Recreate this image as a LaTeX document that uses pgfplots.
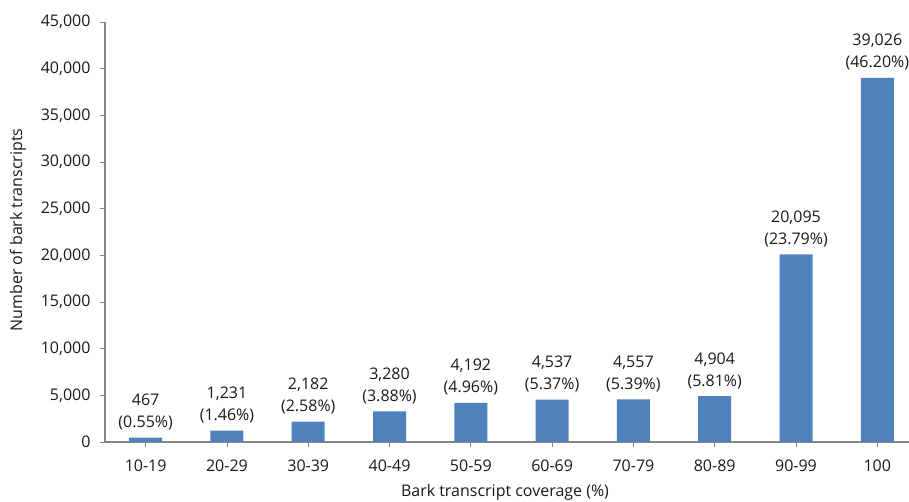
\documentclass[border=0pt]{standalone}
\usepackage{pgfplots}
\pgfplotsset{compat=1.18}
\usepackage{fontspec}
\setmainfont{Open Sans}
\definecolor{barblue}{HTML}{4F81BD}
\definecolor{axgray}{HTML}{868686}
\definecolor{txt}{HTML}{1A1A1A}
\begin{document}
\begin{tikzpicture}[x=1pt,y=1pt]
\begin{axis}[
  at={(0,0)}, anchor=south west,
  scale only axis, width=804pt, height=420pt,
  xmin=-0.5, xmax=9.39, ymin=0, ymax=45000,
  axis x line*=bottom, axis y line*=left,
  axis line style={axgray, line width=1.3pt, -},
  tick style={axgray, line width=0.8pt},
  major tick length=5pt,
  tick align=outside,
  xtick={0,...,9},
  xticklabels={10-19,20-29,30-39,40-49,50-59,60-69,70-79,80-89,90-99,100},
  ytick={0,5000,...,45000},
  scaled y ticks=false,
  /pgf/number format/1000 sep={,},
  /pgf/number format/assume math mode=true,
  font=\fontsize{16}{22}\selectfont,
  every tick label/.append style={text=txt, font=\fontsize{16}{22}\selectfont},
  xticklabel style={yshift=-9pt},
  yticklabel style={xshift=-6pt},
  xlabel={Bark transcript coverage (\%)},
  ylabel={Number of bark transcripts},
  every axis x label/.style={at={(axis description cs:0.4975,0)}, yshift=-50pt, anchor=center, text=txt, font=\fontsize{16}{22}\selectfont},
  every axis y label/.style={at={(axis description cs:0,0.505)}, xshift=-87pt, anchor=center, rotate=90, text=txt, font=\fontsize{16}{22}\selectfont},
  ybar, bar width=33pt,
  nodes near coords,
  point meta=explicit symbolic,
  every node near coord/.append style={align=center, anchor=south, yshift=4pt, text=txt, font=\fontsize{16}{22}\selectfont},
]
\addplot[fill=barblue, draw=none] coordinates {
  (0,467) [{467\\(0.55\%)}]
  (1,1231) [{1,231\\(1.46\%)}]
  (2,2182) [{2,182\\(2.58\%)}]
  (3,3280) [{3,280\\(3.88\%)}]
  (4,4192) [{4,192\\(4.96\%)}]
  (5,4537) [{4,537\\(5.37\%)}]
  (6,4557) [{4,557\\(5.39\%)}]
  (7,4904) [{4,904\\(5.81\%)}]
  (8,20095) [{20,095\\(23.79\%)}]
  (9,39026) [{39,026\\(46.20\%)}]
};
\end{axis}
\pgfresetboundingbox
\path (-105,-60) rectangle (804,442);
\end{tikzpicture}
\end{document}
